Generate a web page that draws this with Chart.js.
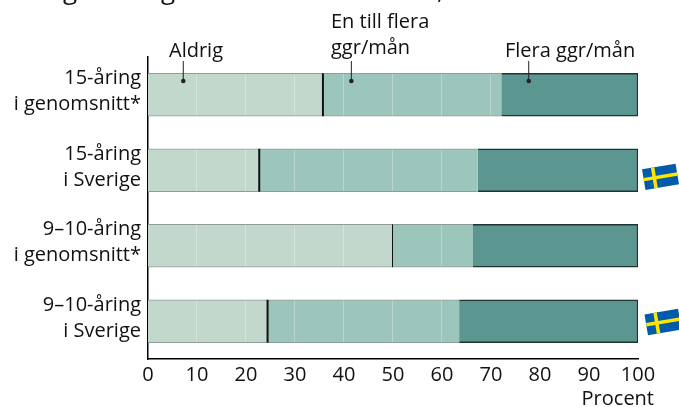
<!DOCTYPE html>
<html lang="sv">
<head>
<meta charset="utf-8">
<title>Procent</title>
<style>
  html, body { margin: 0; padding: 0; background: #fff; overflow: hidden; }
  canvas { display: block; }
</style>
<script src="https://cdn.jsdelivr.net/npm/chart.js@4"></script>
</head>
<body>
<canvas id="chart" width="679" height="407"></canvas>
<script>
const kategorier = [
    ["15-åring", "i genomsnitt*"],
    ["15-åring", "i Sverige"],
    ["9–10-åring", "i genomsnitt*"],
    ["9–10-åring", "i Sverige"]
];
const serieNamn = ["Aldrig", "En till flera ggr/mån", "Flera ggr/mån"];
const aldrig = [35.7, 22.7, 49.9, 24.4];
const enTillFlera = [36.4, 44.6, 16.3, 39.1];
const fleraGgr = [27.9, 32.7, 33.8, 36.5];
const xTicks = [0, 10, 20, 30, 40, 50, 60, 70, 80, 90, 100];
const xTitel = "Procent";

const FONT = '"Open Sans", "Noto Sans", sans-serif';
const TEXT = "#111";

// ritar det som Chart.js inte har egna element for
const extras = {
    id: "extras",
    afterDatasetsDraw(chart) {
        let ctx = chart.ctx;
        let x = chart.scales.x;
        let ljus = chart.getDatasetMeta(0).data;
        let mellan = chart.getDatasetMeta(1).data;
        ctx.save();

        // ljusa stodlinjer, bara over de tva ljusa falten
        ctx.strokeStyle = "rgba(255,255,255,0.3)";
        ctx.lineWidth = 1;
        xTicks.forEach(t => {
            let px = x.getPixelForValue(t) - 0.5;
            [ljus, mellan].forEach(bars => bars.forEach(b => {
                if (px > b.base + 1 && px < b.x - 1) {
                    ctx.beginPath();
                    ctx.moveTo(px, b.y - b.height / 2 + 1);
                    ctx.lineTo(px, b.y + b.height / 2 - 1);
                    ctx.stroke();
                }
            }));
        });

        // svart skiljelinje mellan ljust och mellan
        ctx.strokeStyle = "#111";
        ljus.forEach((b, i) => {
            ctx.lineWidth = i === 2 ? 1 : 2;
            ctx.beginPath();
            ctx.moveTo(b.x, b.y - b.height / 2);
            ctx.lineTo(b.x, b.y + b.height / 2);
            ctx.stroke();
        });

        // pilar fran etiketterna
        ctx.strokeStyle = "#222";
        ctx.fillStyle = "#222";
        ctx.lineWidth = 1;
        [[7.2, 61], [41.5, 61], [77.7, 61]].forEach(p => {
            let px = x.getPixelForValue(p[0]);
            ctx.beginPath();
            ctx.moveTo(px, p[1]);
            ctx.lineTo(px, 81);
            ctx.stroke();
            ctx.beginPath();
            ctx.arc(px, 81, 2.3, 0, Math.PI * 2);
            ctx.fill();
        });

        // texter
        ctx.fillStyle = TEXT;
        ctx.font = "20px " + FONT;
        ctx.textBaseline = "alphabetic";
        ctx.textAlign = "left";
        ctx.fillText("Aldrig", 169, 57);
        ctx.fillText("En till flera", 331, 28);
        ctx.fillText("ggr/mån", 331, 54);
        ctx.fillText("Flera ggr/mån", 505, 57);
        ctx.textAlign = "right";
        ctx.fillText(xTitel, 654, 405);

        // avklippta bitar av rubriken
        ctx.textAlign = "left";
        ctx.font = "26px " + FONT;
        ctx.fillText("g", 63, -1);
        ctx.fillText("g", 161, -1);
        ctx.fillText(",", 437, -1);

        flagga(ctx, 660.5, 176.8);
        flagga(ctx, 663, 322);
        ctx.restore();
    }
};

function flagga(ctx, cx, cy) {
    let w = 34, h = 21;
    ctx.save();
    ctx.translate(cx, cy);
    ctx.rotate(-9.5 * Math.PI / 180);
    ctx.fillStyle = "#005bab";
    ctx.fillRect(-w / 2, -h / 2, w, h);
    ctx.fillStyle = "#ffe600";
    ctx.fillRect(-w / 2 + 9, -h / 2, 3.5, h);
    ctx.fillRect(-w / 2, -1.75, w, 3.5);
    ctx.restore();
}

let grafik = new Chart(document.getElementById("chart"), {
    type: "bar",
    data: {
        labels: kategorier,
        datasets: [
            { label: serieNamn[0], data: aldrig, backgroundColor: "#c2d8cc", borderColor: "#8f9c97", borderWidth: { top: 1, bottom: 1, left: 1 } },
            { label: serieNamn[1], data: enTillFlera, backgroundColor: "#9cc5bb", borderColor: "#8f9c97", borderWidth: { top: 1, bottom: 1 } },
            { label: serieNamn[2], data: fleraGgr, backgroundColor: "#5c9690", borderColor: "#1f3533", borderWidth: 1.5 }
        ]
    },
    options: {
        responsive: false,
        animation: false,
        indexAxis: "y",
        barThickness: 43,
        layout: { padding: { top: 57, right: 41, left: 0, bottom: 0 } },
        plugins: { legend: { display: false }, tooltip: { enabled: false } },
        scales: {
            x: {
                stacked: true,
                min: 0,
                max: 100,
                afterBuildTicks: s => { s.ticks = xTicks.map(v => ({ value: v })); },
                afterFit: s => { s.height = 48; },
                grid: { display: false, tickLength: 0 },
                border: { color: "#000", width: 1.5 },
                ticks: { color: TEXT, padding: 4, maxRotation: 0, autoSkip: false, font: { family: FONT, size: 20 } }
            },
            y: {
                stacked: true,
                afterFit: s => { s.width = 148; },
                grid: { display: false, tickLength: 0 },
                border: { color: "#000", width: 1.5 },
                ticks: { color: TEXT, padding: 7, labelOffset: -3, autoSkip: false, font: { family: FONT, size: 20, lineHeight: 1.3 } }
            }
        }
    },
    plugins: [extras]
});
</script>
</body>
</html>
